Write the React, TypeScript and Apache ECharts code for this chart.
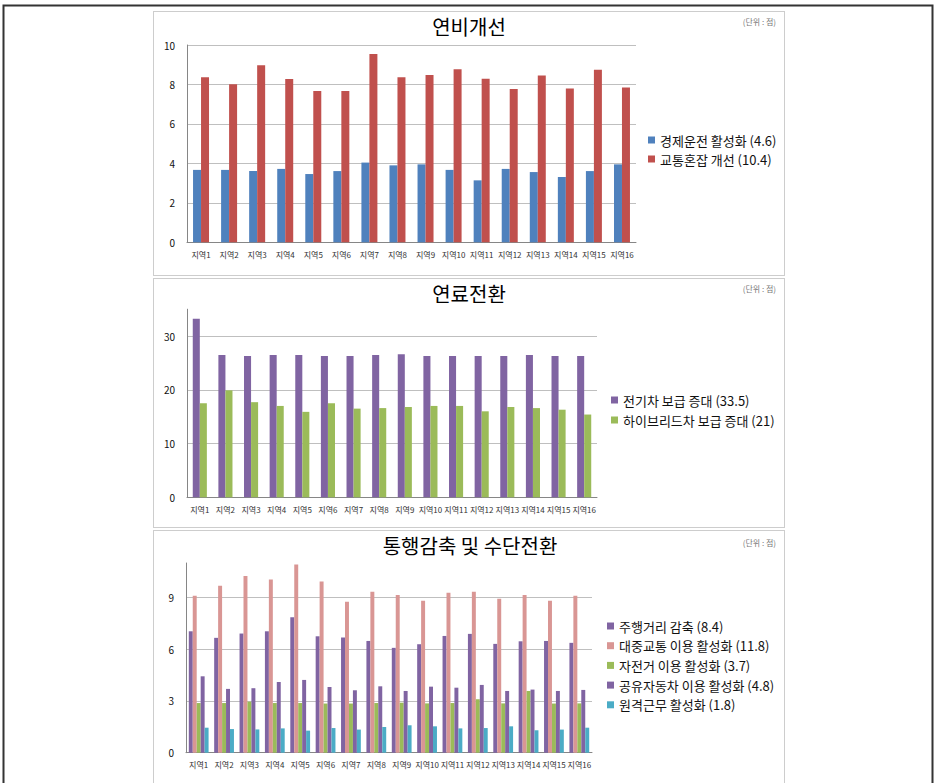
import React, { useEffect, useRef } from 'react';
import * as echarts from 'echarts';

const regions = ['지역1', '지역2', '지역3', '지역4', '지역5', '지역6', '지역7', '지역8', '지역9', '지역10', '지역11', '지역12', '지역13', '지역14', '지역15', '지역16'];

// Panel 1: 연비개선
const p1Title = '연비개선';
const p1Names = ['경제운전 활성화 (4.6)', '교통혼잡 개선 (10.4)'];
const ecoDriving = [3.67, 3.67, 3.61, 3.72, 3.46, 3.61, 4.04, 3.90, 3.95, 3.67, 3.14, 3.72, 3.56, 3.31, 3.61, 3.95];
const congestion = [8.36, 8.01, 8.97, 8.28, 7.67, 7.67, 9.54, 8.36, 8.48, 8.77, 8.29, 7.77, 8.45, 7.80, 8.75, 7.85];

// Panel 2: 연료전환
const p2Title = '연료전환';
const p2Names = ['전기차 보급 증대 (33.5)', '하이브리드차 보급 증대 (21)'];
const electric = [33.2, 26.5, 26.3, 26.5, 26.5, 26.3, 26.3, 26.5, 26.6, 26.3, 26.3, 26.3, 26.3, 26.5, 26.3, 26.3];
const hybrid = [17.5, 19.9, 17.7, 17.0, 15.9, 17.5, 16.5, 16.6, 16.8, 17.0, 17.0, 16.0, 16.8, 16.6, 16.3, 15.4];

// Panel 3: 통행감축 및 수단전환
const p3Title = '통행감축 및 수단전환';
const p3Names = ['주행거리 감축 (8.4)', '대중교통 이용 활성화 (11.8)', '자전거 이용 활성화 (3.7)', '공유자동차 이용 활성화 (4.8)', '원격근무 활성화 (1.8)'];
const distance = [7.04, 6.66, 6.91, 7.04, 7.86, 6.75, 6.68, 6.48, 6.08, 6.29, 6.77, 6.89, 6.31, 6.46, 6.48, 6.37];
const transit = [9.10, 9.68, 10.24, 10.04, 10.92, 9.93, 8.75, 9.33, 9.15, 8.81, 9.27, 9.33, 8.92, 9.15, 8.81, 9.10];
const bicycle = [2.88, 2.88, 2.96, 2.88, 2.88, 2.85, 2.85, 2.88, 2.90, 2.86, 2.88, 3.10, 2.86, 3.58, 2.85, 2.86];
const carShare = [4.43, 3.70, 3.74, 4.10, 4.22, 3.81, 3.62, 3.85, 3.58, 3.83, 3.77, 3.93, 3.58, 3.66, 3.58, 3.64];
const remote = [1.45, 1.37, 1.35, 1.41, 1.28, 1.43, 1.34, 1.49, 1.59, 1.53, 1.41, 1.43, 1.53, 1.30, 1.34, 1.45];

const unitText = '(단위 : 점)';

const FONT = '"Noto Sans CJK KR", "Noto Sans", sans-serif';

const C_BLUE = '#4F81BD';
const C_RED = '#C0504D';
const C_PURPLE = '#8064A2';
const C_GREEN = '#9BBB59';
const C_PINK = '#D99694';
const C_CYAN = '#4BACC6';

function App() {
  const ref = useRef<HTMLDivElement>(null);

  useEffect(() => {
    if (!ref.current) return;
    const chart = echarts.init(ref.current, null, { renderer: 'svg' });

    const grids = [
      { left: 187, top: 45, width: 449, height: 197.3 },
      { left: 187, top: 309.2, width: 410, height: 188.1 },
      { left: 186, top: 563, width: 406, height: 189.7 },
    ];

    const xAxisBase = (gi: number) => ({
      type: 'category',
      gridIndex: gi,
      data: regions,
      axisLine: { show: true, lineStyle: { color: '#868686', width: 1 } },
      axisTick: { show: false },
      axisLabel: { interval: 0, fontSize: 8, color: '#333', margin: 8, fontFamily: FONT },
      splitLine: { show: false },
    });

    const yAxisBase = (gi: number, max: number, interval: number, hideMax: boolean) => ({
      type: 'value',
      gridIndex: gi,
      min: 0,
      max,
      interval,
      axisLine: { show: true, lineStyle: { color: '#868686', width: 1 } },
      axisTick: { show: false },
      axisLabel: { fontSize: 10, color: '#111', margin: 12, fontFamily: FONT, showMaxLabel: !hideMax },
      splitLine: { show: true, showMaxLine: !hideMax, lineStyle: { color: '#bfbfbf', width: 1 } },
    });

    const bar = (name: string, data: number[], color: string, gi: number, gap: string) => ({
      type: 'bar',
      name,
      data,
      xAxisIndex: gi,
      yAxisIndex: gi,
      barGap: '0%',
      barCategoryGap: gap,
      itemStyle: { color },
      emphasis: { disabled: true },
    });

    const legendBase = (left: number, top: number, data: string[], gap: number) => ({
      orient: 'vertical',
      left,
      top,
      padding: 0,
      data,
      icon: 'rect',
      itemWidth: 7,
      itemHeight: 7,
      itemGap: gap,
      textStyle: { fontSize: 13, lineHeight: 14, color: '#111', fontFamily: FONT },
      selectedMode: false,
    });

    const titleText = (text: string, x: number, y: number) => ({
      type: 'text',
      x,
      y,
      style: { text, fontSize: 20, fill: '#000', fontFamily: FONT, textAlign: 'center', textVerticalAlign: 'middle' },
    });
    const unitLabel = (y: number) => ({
      type: 'text',
      x: 776,
      y,
      style: { text: unitText, fontSize: 8, fill: '#777', fontFamily: FONT, textAlign: 'right', textVerticalAlign: 'middle' },
    });
    const panelRect = (y: number, h: number) => ({
      type: 'rect',
      shape: { x: 153.5, y, width: 631, height: h },
      style: { fill: 'none', stroke: '#9a9a9a', lineWidth: 1, lineDash: [1, 1] },
      silent: true,
    });

    chart.setOption({
      animation: false,
      backgroundColor: '#fff',
      grid: grids,
      xAxis: [xAxisBase(0), xAxisBase(1), xAxisBase(2)],
      yAxis: [
        yAxisBase(0, 10, 2, false),
        yAxisBase(1, 35, 10, true),
        yAxisBase(2, 11, 3, true),
      ],
      legend: [
        legendBase(648, 133, p1Names, 5),
        legendBase(611, 393, p2Names, 6),
        legendBase(607, 619, p3Names, 5.7),
      ],
      series: [
        bar(p1Names[0], ecoDriving, C_BLUE, 0, '43%'),
        bar(p1Names[1], congestion, C_RED, 0, '43%'),
        bar(p2Names[0], electric, C_PURPLE, 1, '45%'),
        bar(p2Names[1], hybrid, C_GREEN, 1, '45%'),
        bar(p3Names[0], distance, C_PURPLE, 2, '22%'),
        bar(p3Names[1], transit, C_PINK, 2, '22%'),
        bar(p3Names[2], bicycle, C_GREEN, 2, '22%'),
        bar(p3Names[3], carShare, C_PURPLE, 2, '22%'),
        bar(p3Names[4], remote, C_CYAN, 2, '22%'),
      ],
      graphic: [
        {
          type: 'rect',
          shape: { x: 3.5, y: 5.5, width: 929, height: 800 },
          style: { fill: 'none', stroke: '#333', lineWidth: 2 },
          silent: true,
        },
        panelRect(11.5, 264),
        panelRect(278.5, 249),
        panelRect(530.5, 270),
        titleText(p1Title, 469, 26),
        titleText(p2Title, 469, 293),
        titleText(p3Title, 470, 545),
        unitLabel(21),
        unitLabel(288),
        unitLabel(542),
      ],
    });

    return () => {
      chart.dispose();
    };
  }, []);

  return (
    <div
      ref={ref}
      style={{ position: 'fixed', left: 0, top: 0, width: 935, height: 783, background: '#fff' }}
    />
  );
}

export default App;
